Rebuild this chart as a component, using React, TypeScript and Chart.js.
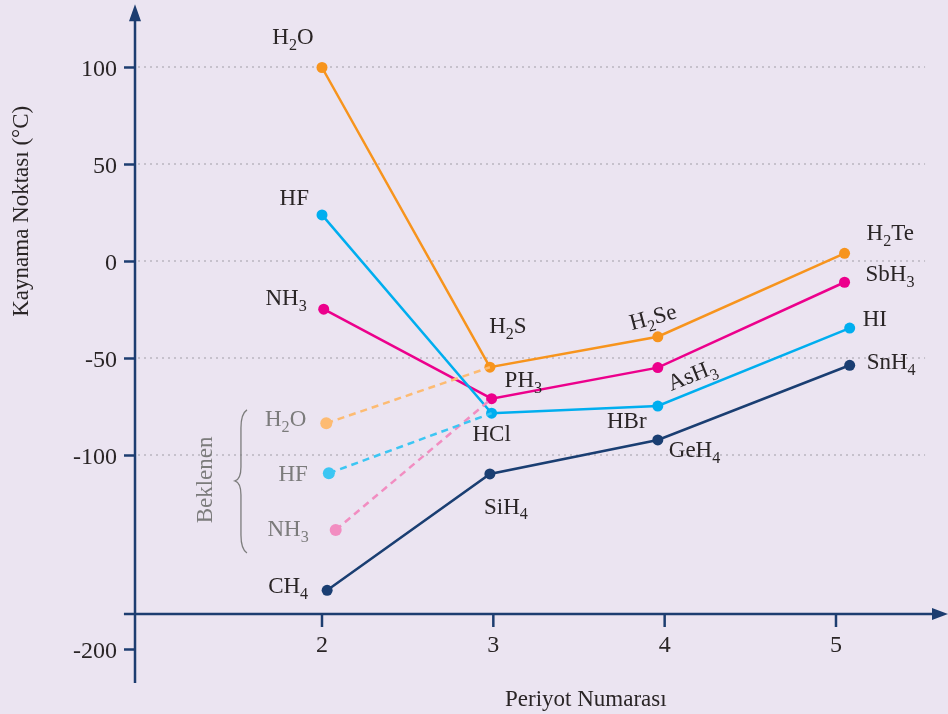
import React, { useEffect, useRef } from "react";
import { Chart, registerables } from "chart.js";

Chart.register(...registerables);

// ---------- DATA ----------
const xTickValues = [2, 3, 4, 5];
const xTickLabels = ["2", "3", "4", "5"];
const yTickValues = [100, 50, 0, -50, -100, -200];
const yTickLabels = ["100", "50", "0", "-50", "-100", "-200"];
const gridValues = [100, 50, 0, -50, -100];

// group 16 (H2X)
const g16Names = ["H_2O", "H_2S", "H_2Se", "H_2Te"];
const g16X = [2.0, 2.98, 3.96, 5.05];
const g16Y = [100, -54.5, -38.8, 4.2];

// group 15 (XH3)
const g15Names = ["NH_3", "PH_3", "AsH_3", "SbH_3"];
const g15X = [2.01, 2.99, 3.96, 5.05];
const g15Y = [-24.6, -70.7, -54.7, -10.7];

// group 17 (HX)
const g17Names = ["HF", "HCl", "HBr", "HI"];
const g17X = [2.0, 2.99, 3.96, 5.08];
const g17Y = [24, -78.2, -74.5, -34.3];

// group 14 (XH4)
const g14Names = ["CH_4", "SiH_4", "GeH_4", "SnH_4"];
const g14X = [2.03, 2.98, 3.96, 5.08];
const g14Y = [-169.5, -109.5, -92, -53.5];

// expected (Beklenen) values for period 2
const expNames = ["H_2O", "HF", "NH_3"];
const expX = [2.025, 2.04, 2.08];
const expY = [-83.4, -109.2, -138.4];

// ---------- STYLE / LAYOUT ----------
const FONT = '"Liberation Serif", "Times New Roman", serif';
const BG = "#ebe4f1";
const AXIS = "#1d3d70";
const TEXT = "#2a2526";
const GRAY_TEXT = "#7b7b7b";

const C_ORANGE = "#f7941d";
const C_PINK = "#ec008c";
const C_BLUE = "#00aeef";
const C_NAVY = "#1a3e72";
const C_ORANGE_L = "#fdbb72";
const C_PINK_L = "#f28dc1";
const C_BLUE_L = "#3cc6f3";

const X_MIN = 0.1206;
const X_MAX = 5.6538;
const Y_MIN = -233.25;
const Y_MAX = 134.79;
const Y_AXIS_AT_X = 0.9086;
const X_AXIS_AT_Y = -181.7;
const Y_AXIS_BOTTOM = -217.3;
const Y_AXIS_TOP = 132.6;
const X_AXIS_LEFT = 0.844;

type Lay = { dx: number; dy: number; align: CanvasTextAlign; rot?: number };

const g16Layout: Lay[] = [
  { dx: -29, dy: -31, align: "center" },
  { dx: 18, dy: -42, align: "center" },
  { dx: -5, dy: -20, align: "center", rot: -15 },
  { dx: 22, dy: -21, align: "left" },
];
const g15Layout: Lay[] = [
  { dx: -17, dy: -12, align: "right" },
  { dx: 13, dy: -19, align: "left" },
  { dx: 34, dy: 7, align: "center", rot: -22 },
  { dx: 21, dy: -9, align: "left" },
];
const g17Layout: Lay[] = [
  { dx: -13, dy: -18, align: "right" },
  { dx: 0, dy: 20, align: "center" },
  { dx: -31, dy: 14, align: "center" },
  { dx: 13, dy: -10, align: "left" },
];
const g14Layout: Lay[] = [
  { dx: -19, dy: -5, align: "right" },
  { dx: 16, dy: 32, align: "center" },
  { dx: 11, dy: 9, align: "left" },
  { dx: 17, dy: -4, align: "left" },
];
const expLayout: Lay[] = [
  { dx: -20, dy: -5, align: "right" },
  { dx: -21, dy: 0, align: "right" },
  { dx: -27, dy: -2, align: "right" },
];

function drawRich(
  ctx: CanvasRenderingContext2D,
  text: string,
  x: number,
  y: number,
  align: CanvasTextAlign,
  size: number,
  color: string,
  rot = 0
) {
  const tokens = text.split(/(_\d)/).filter((t) => t.length > 0);
  const parts = tokens.map((t) =>
    t.startsWith("_") ? { t: t.slice(1), sub: true } : { t, sub: false }
  );
  const subSize = size * 0.7;
  let total = 0;
  const widths: number[] = [];
  for (const p of parts) {
    ctx.font = `${p.sub ? subSize : size}px ${FONT}`;
    const w = ctx.measureText(p.t).width;
    widths.push(w);
    total += w;
  }
  ctx.save();
  ctx.translate(x, y);
  if (rot) ctx.rotate((rot * Math.PI) / 180);
  ctx.fillStyle = color;
  ctx.textAlign = "left";
  ctx.textBaseline = "alphabetic";
  let cx = align === "center" ? -total / 2 : align === "right" ? -total : 0;
  const base = size * 0.33;
  parts.forEach((p, i) => {
    ctx.font = `${p.sub ? subSize : size}px ${FONT}`;
    ctx.fillText(p.t, cx, p.sub ? base + size * 0.26 : base);
    cx += widths[i];
  });
  ctx.restore();
}

function pts(xs: number[], ys: number[]) {
  return xs.map((x, i) => ({ x, y: ys[i] }));
}

export default function App() {
  const ref = useRef<HTMLCanvasElement | null>(null);

  useEffect(() => {
    if (!ref.current) return;

    const decor = {
      id: "decor",
      beforeDraw(chart: any) {
        const { ctx, width, height } = chart;
        ctx.save();
        ctx.fillStyle = BG;
        ctx.fillRect(0, 0, width, height);
        ctx.restore();
      },
      beforeDatasetsDraw(chart: any) {
        const ctx: CanvasRenderingContext2D = chart.ctx;
        const xs = chart.scales.x;
        const ys = chart.scales.y;
        const ax = xs.getPixelForValue(Y_AXIS_AT_X);
        const ay = ys.getPixelForValue(X_AXIS_AT_Y);
        const yTop = ys.getPixelForValue(Y_AXIS_TOP);
        const yBot = ys.getPixelForValue(Y_AXIS_BOTTOM);
        const xLeft = xs.getPixelForValue(X_AXIS_LEFT);
        const xRight = xs.getPixelForValue(X_MAX);

        ctx.save();
        // grid lines
        ctx.strokeStyle = "#c6c1cc";
        ctx.lineWidth = 2;
        ctx.setLineDash([2, 4]);
        for (const v of gridValues) {
          const py = Math.round(ys.getPixelForValue(v));
          ctx.beginPath();
          ctx.moveTo(ax + 3, py);
          ctx.lineTo(xs.getPixelForValue(5.52), py);
          ctx.stroke();
        }
        ctx.setLineDash([]);

        // axes
        ctx.strokeStyle = AXIS;
        ctx.fillStyle = AXIS;
        ctx.lineWidth = 2.5;
        ctx.beginPath();
        ctx.moveTo(ax, yBot);
        ctx.lineTo(ax, yTop + 14);
        ctx.moveTo(xLeft, ay);
        ctx.lineTo(xRight - 12, ay);
        ctx.stroke();
        // arrows
        ctx.beginPath();
        ctx.moveTo(ax, yTop);
        ctx.lineTo(ax - 6, yTop + 17);
        ctx.lineTo(ax + 6, yTop + 17);
        ctx.closePath();
        ctx.fill();
        ctx.beginPath();
        ctx.moveTo(xRight, ay);
        ctx.lineTo(xRight - 16, ay - 6);
        ctx.lineTo(xRight - 16, ay + 6);
        ctx.closePath();
        ctx.fill();

        // y ticks
        ctx.lineWidth = 2.5;
        yTickValues.forEach((v, i) => {
          const py = ys.getPixelForValue(v);
          ctx.beginPath();
          ctx.moveTo(ax - 11, py);
          ctx.lineTo(ax, py);
          ctx.stroke();
          ctx.font = `24px ${FONT}`;
          ctx.fillStyle = TEXT;
          ctx.textAlign = "right";
          ctx.textBaseline = "middle";
          ctx.fillText(yTickLabels[i], ax - 18, py + 2);
        });
        // x ticks
        xTickValues.forEach((v, i) => {
          const px = xs.getPixelForValue(v);
          ctx.strokeStyle = AXIS;
          ctx.beginPath();
          ctx.moveTo(px, ay);
          ctx.lineTo(px, ay + 13);
          ctx.stroke();
          ctx.font = `24px ${FONT}`;
          ctx.fillStyle = TEXT;
          ctx.textAlign = "center";
          ctx.textBaseline = "middle";
          ctx.fillText(xTickLabels[i], px, ay + 32);
        });

        // axis titles
        ctx.font = `23px ${FONT}`;
        ctx.fillStyle = TEXT;
        ctx.textAlign = "center";
        ctx.textBaseline = "middle";
        ctx.fillText("Periyot Numarası", xs.getPixelForValue(3.54), 700);
        ctx.save();
        ctx.translate(22, ys.getPixelForValue(25.9));
        ctx.rotate(-Math.PI / 2);
        ctx.fillText("Kaynama Noktası (°C)", 0, 0);
        ctx.restore();

        // Beklenen + brace
        ctx.save();
        ctx.translate(xs.getPixelForValue(1.323), ys.getPixelForValue(-112.6));
        ctx.rotate(-Math.PI / 2);
        ctx.fillStyle = GRAY_TEXT;
        ctx.font = `23px ${FONT}`;
        ctx.fillText("Beklenen", 0, 0);
        ctx.restore();

        const bx = xs.getPixelForValue(1.562);
        const bTip = xs.getPixelForValue(1.492);
        const bTop = ys.getPixelForValue(-76.5);
        const bMid = ys.getPixelForValue(-113.1);
        const bBot = ys.getPixelForValue(-150.3);
        const inner = bx - 6;
        ctx.strokeStyle = "#7d7d7d";
        ctx.lineWidth = 1.3;
        ctx.beginPath();
        ctx.moveTo(bx, bTop);
        ctx.quadraticCurveTo(inner, bTop + 4, inner, bTop + 18);
        ctx.lineTo(inner, bMid - 14);
        ctx.quadraticCurveTo(inner, bMid - 2, bTip, bMid);
        ctx.quadraticCurveTo(inner, bMid + 2, inner, bMid + 14);
        ctx.lineTo(inner, bBot - 18);
        ctx.quadraticCurveTo(inner, bBot - 4, bx, bBot);
        ctx.stroke();
        ctx.restore();
      },
      afterDatasetsDraw(chart: any) {
        const ctx: CanvasRenderingContext2D = chart.ctx;
        const xs = chart.scales.x;
        const ys = chart.scales.y;
        const groups: [string[], number[], number[], Lay[], string][] = [
          [g16Names, g16X, g16Y, g16Layout, TEXT],
          [g15Names, g15X, g15Y, g15Layout, TEXT],
          [g17Names, g17X, g17Y, g17Layout, TEXT],
          [g14Names, g14X, g14Y, g14Layout, TEXT],
          [expNames, expX, expY, expLayout, GRAY_TEXT],
        ];
        for (const [names, gx, gy, lay, col] of groups) {
          names.forEach((n, i) => {
            const px = xs.getPixelForValue(gx[i]);
            const py = ys.getPixelForValue(gy[i]);
            const l = lay[i];
            drawRich(ctx, n, px + l.dx, py + l.dy, l.align, 23, col, l.rot || 0);
          });
        }
      },
    };

    const solid = (data: any[], color: string) => ({
      data,
      borderColor: color,
      backgroundColor: color,
      borderWidth: 2.5,
      pointRadius: 5.5,
      pointBorderWidth: 0,
      pointHoverRadius: 5.5,
      tension: 0,
      clip: false as any,
    });
    const dashed = (data: any[], color: string) => ({
      data,
      borderColor: color,
      backgroundColor: color,
      borderWidth: 2.5,
      borderDash: [7, 5],
      pointRadius: [6, 0],
      pointBorderWidth: 0,
      tension: 0,
      clip: false as any,
    });

    const chart = new Chart(ref.current, {
      type: "line",
      data: {
        datasets: [
          dashed([{ x: expX[0], y: expY[0] }, { x: g16X[1], y: g16Y[1] }], C_ORANGE_L),
          dashed([{ x: expX[1], y: expY[1] }, { x: g17X[1], y: g17Y[1] }], C_BLUE_L),
          dashed([{ x: expX[2], y: expY[2] }, { x: g15X[1], y: g15Y[1] }], C_PINK_L),
          solid(pts(g14X, g14Y), C_NAVY),
          solid(pts(g17X, g17Y), C_BLUE),
          solid(pts(g15X, g15Y), C_PINK),
          solid(pts(g16X, g16Y), C_ORANGE),
        ] as any,
      },
      options: {
        animation: false,
        responsive: false,
        maintainAspectRatio: false,
        layout: { padding: 0, autoPadding: false } as any,
        parsing: false as any,
        scales: {
          x: { type: "linear", min: X_MIN, max: X_MAX, display: false },
          y: { type: "linear", min: Y_MIN, max: Y_MAX, display: false },
        },
        plugins: {
          legend: { display: false },
          tooltip: { enabled: false },
        },
        events: [],
      },
      plugins: [decor],
    });

    return () => chart.destroy();
  }, []);

  return (
    <div style={{ position: "fixed", left: 0, top: 0, width: 948, height: 714, background: BG }}>
      <canvas ref={ref} width={948} height={714} style={{ width: 948, height: 714, display: "block" }} />
    </div>
  );
}
